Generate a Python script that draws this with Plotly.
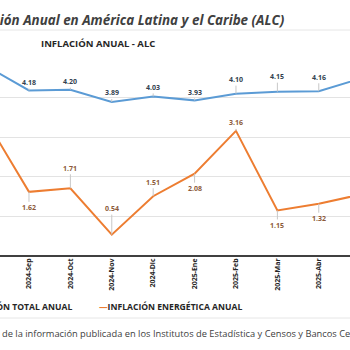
import plotly.graph_objects as go

months = ["2024-Ago", "2024-Sep", "2024-Oct", "2024-Nov", "2024-Dic", "2025-Ene",
          "2025-Feb", "2025-Mar", "2025-Abr", "2025-May"]
total = [4.78, 4.18, 4.20, 3.89, 4.03, 3.93, 4.10, 4.15, 4.16, 4.48]
energia = [3.37, 1.62, 1.71, 0.54, 1.51, 2.08, 3.16, 1.15, 1.32, 1.55]
total_off = [-12, -8, -8, -9, -9, -8, -14, -15, -14, -12]
energia_off = [-12, 16, -20, -26, -14, 15, -8, 15, 15, -12]

BLUE = "#5B9BD5"
ORANGE = "#ED7D31"
BLUE_TXT = "#333F50"
ORANGE_TXT = "#8C5A3A"
FONT = "Open Sans"

PLOT_TOP, PLOT_BOT = 58, 256


def py(px):
    # figure pixel row -> paper y
    return (PLOT_BOT - px) / (PLOT_BOT - PLOT_TOP)


fig = go.Figure()
fig.add_trace(go.Scatter(x=months, y=total, mode="lines", line=dict(color=BLUE, width=2),
                         name="INFLACIÓN TOTAL ANUAL", showlegend=False))
fig.add_trace(go.Scatter(x=months, y=energia, mode="lines", line=dict(color=ORANGE, width=2),
                         name="INFLACIÓN ENERGÉTICA ANUAL", showlegend=False))

ann = []
for m, v, o in zip(months, total, total_off):
    ann.append(dict(x=m, y=v, xref="x", yref="y", text=f"{v:.2f}", showarrow=True,
                    arrowhead=0, arrowwidth=1, arrowcolor="#C8C8C8", ax=0, ay=o,
                    standoff=0, font=dict(family=FONT, size=7, color=BLUE_TXT, weight="bold")))
for m, v, o in zip(months, energia, energia_off):
    ann.append(dict(x=m, y=v, xref="x", yref="y", text=f"{v:.2f}", showarrow=True,
                    arrowhead=0, arrowwidth=1, arrowcolor="#C8C8C8", ax=0, ay=o,
                    standoff=0, font=dict(family=FONT, size=7, color=ORANGE_TXT, weight="bold")))

# Titles
ann.append(dict(x=287/350, y=py(20), xref="paper", yref="paper", xanchor="right", yanchor="middle",
                text="<b><i>Inflación Anual en América Latina y el Caribe (ALC)</i></b>", showarrow=False,
                font=dict(family=FONT, size=13.4, color="#404040")))
ann.append(dict(x=98/350, y=py(43), xref="paper", yref="paper", xanchor="center", yanchor="middle",
                text="<b>INFLACIÓN ANUAL - ALC</b>", showarrow=False,
                font=dict(family=FONT, size=9.5, color="#262626")))
# Legend
ann.append(dict(x=74/350, y=py(307), xref="paper", yref="paper", xanchor="right", yanchor="middle",
                text=f"<b><span style='color:{BLUE}'>—</span>INFLACIÓN TOTAL ANUAL</b>", showarrow=False,
                font=dict(family=FONT, size=8.6, color="#262626")))
ann.append(dict(x=97/350, y=py(307), xref="paper", yref="paper", xanchor="left", yanchor="middle",
                text=f"<b><span style='color:{ORANGE}'>—</span>INFLACIÓN ENERGÉTICA ANUAL</b>", showarrow=False,
                font=dict(family=FONT, size=8.6, color="#262626")))
# Footer
ann.append(dict(x=0, y=py(333), xref="paper", yref="paper", xanchor="left", yanchor="middle",
                text="de la información publicada en los Institutos de Estadística y Censos y Bancos Centrales",
                showarrow=False, font=dict(family=FONT, size=9.3, color="#404040")))

shapes = [
    dict(type="line", xref="paper", yref="paper", x0=0, x1=1, y0=py(30), y1=py(30),
         line=dict(color="#E6E6E6", width=1)),
    dict(type="line", xref="paper", yref="paper", x0=0, x1=1, y0=py(318), y1=py(318),
         line=dict(color="#E6E6E6", width=1)),
]

fig.update_layout(
    width=350, height=350,
    margin=dict(l=0, r=0, t=PLOT_TOP, b=350 - PLOT_BOT),
    paper_bgcolor="white", plot_bgcolor="white",
    annotations=ann, shapes=shapes,
    xaxis=dict(type="category", range=[0.3, 8.754], tickangle=-90, showgrid=False,
               showline=False, ticks="", zeroline=False,
               tickfont=dict(family=FONT, size=7, color="#262626", weight="bold")),
    yaxis=dict(range=[0, 5], dtick=1, showgrid=True, gridcolor="#E3E3E3", gridwidth=1,
               zeroline=True, zerolinecolor="#404040", zerolinewidth=1.5,
               showticklabels=False, ticks=""),
)

fig.write_html("out.html")
